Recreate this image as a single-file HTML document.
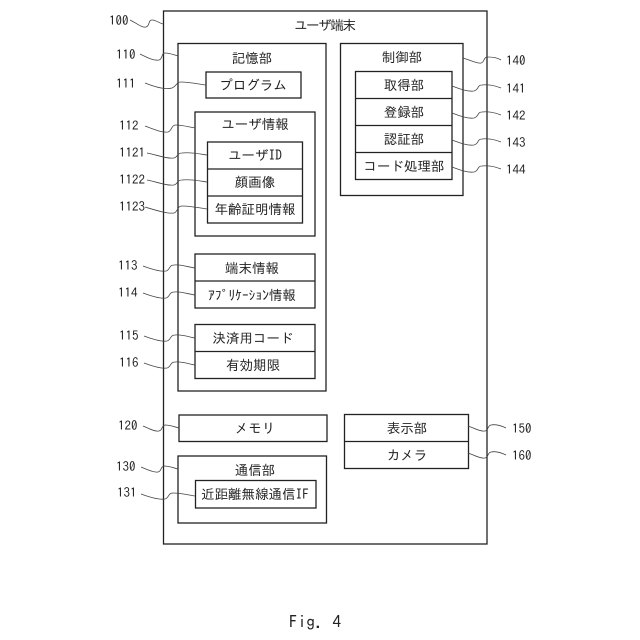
<!DOCTYPE html>
<html><head><meta charset="utf-8"><style>
html,body{margin:0;padding:0;background:#fff}
svg{display:block}
text{font-family:"IPAGothic","Noto Sans CJK JP",monospace;font-size:13.5px;fill:#222;text-anchor:middle}
.n{text-anchor:start;font-size:13px}
rect{fill:none;stroke:#222;stroke-width:1.3}
path.l{fill:none;stroke:#444;stroke-width:.8}
path.d{fill:none;stroke:#222;stroke-width:1.3}
</style></head><body>
<svg width="640" height="640" viewBox="0 0 640 640" xmlns="http://www.w3.org/2000/svg">
<rect x="163.5" y="11" width="323.5" height="533"/>
<rect x="178" y="43.5" width="148" height="347.5"/>
<rect x="206" y="72" width="95" height="26"/>
<rect x="195" y="112" width="120" height="124"/>
<rect x="207.5" y="142" width="95" height="81"/>
<path class="d" d="M207.5 169H302.5M207.5 196H302.5"/>
<rect x="195" y="254" width="120" height="54"/>
<path class="d" d="M195 281H315"/>
<rect x="195" y="324.5" width="120" height="54"/>
<path class="d" d="M195 351.5H315"/>
<rect x="179" y="415" width="148" height="26.5"/>
<rect x="178" y="456" width="148.5" height="67"/>
<rect x="195.5" y="480.5" width="120.5" height="27.5"/>
<rect x="340.5" y="43.5" width="122.5" height="152"/>
<rect x="355.5" y="71.5" width="96.5" height="108"/>
<path class="d" d="M355.5 98.5H452M355.5 125.5H452M355.5 152.5H452"/>
<rect x="344.5" y="414.5" width="124" height="54"/>
<path class="d" d="M344.5 441.5H468.5"/>

<text x="325" y="30" textLength="62">ユーザ端末</text>
<text x="252" y="63">記憶部</text>
<text x="253" y="90">プログラム</text>
<text x="255" y="129">ユーザ情報</text>
<text x="255" y="160">ユーザID</text>
<text x="255" y="187">顔画像</text>
<text x="255" y="214">年齢証明情報</text>
<text x="252" y="273">端末情報</text>
<text x="252" y="300">ｱﾌﾟﾘｹｰｼｮﾝ情報</text>
<text x="253" y="343">決済用コード</text>
<text x="253" y="370">有効期限</text>
<text x="255" y="433">メモリ</text>
<text x="255" y="475">通信部</text>
<text x="255" y="499">近距離無線通信IF</text>
<text x="402" y="62">制御部</text>
<text x="404" y="90">取得部</text>
<text x="404" y="117">登録部</text>
<text x="404" y="144">認証部</text>
<text x="404" y="171">コード処理部</text>
<text x="407" y="433">表示部</text>
<text x="407" y="460">カメラ</text>

<text class="n" x="109" y="25">100</text>
<text class="n" x="116" y="59">110</text>
<text class="n" x="116" y="88">111</text>
<text class="n" x="119" y="130">112</text>
<text class="n" x="119" y="157">1121</text>
<text class="n" x="119" y="184">1122</text>
<text class="n" x="119" y="211">1123</text>
<text class="n" x="118" y="270">113</text>
<text class="n" x="118" y="297">114</text>
<text class="n" x="119" y="340">115</text>
<text class="n" x="119" y="367">116</text>
<text class="n" x="118" y="430">120</text>
<text class="n" x="116" y="471">130</text>
<text class="n" x="117" y="497">131</text>
<text class="n" x="506" y="65">140</text>
<text class="n" x="506" y="93">141</text>
<text class="n" x="506" y="120">142</text>
<text class="n" x="506" y="147">143</text>
<text class="n" x="506" y="174">144</text>
<text class="n" x="512" y="433">150</text>
<text class="n" x="512" y="460">160</text>
<text x="315" y="628" style="font-size:17px" textLength="52">Fig. 4</text>

<path class="l" d="M130 20C138 24 142 28 146 27C150 26 148 20 152 20C156 20 159 23 163 24"/>
<path class="l" d="M140 54C148 58 154 61 159 60C163 59 161 53 165 53C170 53 174 55 178 56"/>
<path class="l" d="M145 83C155 87 165 90 172 88C177 86 176 82 181 82C188 82 198 84 206 85"/>
<path class="l" d="M145 126C153 129 162 133 168 132C172 131 171 125 176 125C182 125 189 127 195 128"/>
<path class="l" d="M147 153C157 155 167 159 174 158C178 157 177 153 182 153C190 152 200 154 207 155"/>
<path class="l" d="M147 180C157 182 167 186 174 185C178 184 177 180 182 180C190 179 200 181 207 182"/>
<path class="l" d="M145 207C155 210 167 214 174 213C178 212 177 206 182 206C190 206 200 208 207 209"/>
<path class="l" d="M143 266C151 269 160 272 166 271C170 270 169 265 174 265C180 264 188 267 195 268"/>
<path class="l" d="M143 293C151 296 160 299 166 298C170 297 169 292 174 292C180 291 188 294 195 295"/>
<path class="l" d="M144 336C152 339 161 342 167 341C171 340 170 335 175 335C181 334 189 337 195 338"/>
<path class="l" d="M144 363C152 366 161 369 167 368C171 367 170 362 175 362C181 361 189 364 195 365"/>
<path class="l" d="M143 426C148 428 155 432 159 431C163 430 161 426 165 425C170 425 175 427 179 428"/>
<path class="l" d="M141 467C146 469 154 473 158 472C162 471 160 467 164 466C169 466 174 468 178 469"/>
<path class="l" d="M141 494C149 497 158 500 165 499C169 498 168 493 173 493C180 493 189 495 195 496"/>
<path class="l" d="M463 58C470 60 478 64 481 63C485 62 483 57 488 57C493 57 498 58 501 60"/>
<path class="l" d="M452 86C460 89 468 92 474 91C479 90 477 85 482 85C489 84 496 86 501 88"/>
<path class="l" d="M452 113C460 116 468 119 474 118C479 117 477 112 482 112C489 111 496 113 501 115"/>
<path class="l" d="M452 140C460 143 468 146 474 145C479 144 477 139 482 139C489 138 496 140 501 142"/>
<path class="l" d="M452 167C460 170 468 173 474 172C479 171 477 166 482 166C489 165 496 167 501 169"/>
<path class="l" d="M468 426C474 428 481 432 485 431C489 430 487 426 491 425C496 424 502 426 506 428"/>
<path class="l" d="M468 453C474 455 481 459 485 458C489 457 487 453 491 452C496 451 502 453 506 455"/>
</svg>
</body></html>
